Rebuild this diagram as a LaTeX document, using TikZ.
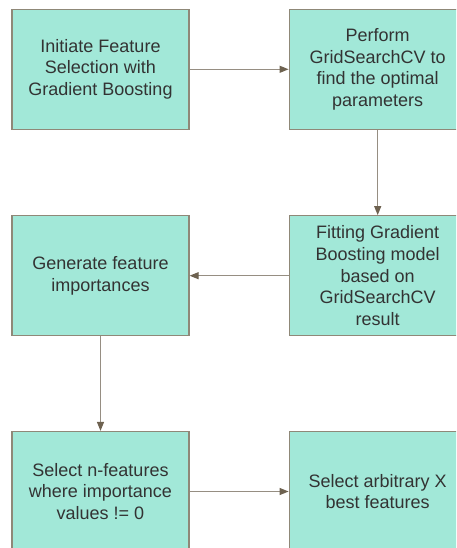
\documentclass[tikz,border=0pt]{standalone}
\usepackage{fontspec}
\setmainfont{Liberation Sans}
\usetikzlibrary{arrows.meta}
\definecolor{boxfill}{RGB}{162,232,216}
\definecolor{boxline}{RGB}{143,136,120}
\definecolor{linkline}{RGB}{150,142,130}
\definecolor{linkhead}{RGB}{110,98,80}
\tikzset{
  x=1pt, y=1pt,
  stepbox/.style={draw=boxline, line width=1.2pt, fill=boxfill, minimum width=177pt,
    minimum height=120pt, inner sep=0pt, align=center, text=black!80,
    font=\fontsize{18}{21.7}\selectfont},
  link/.style={draw=linkline, line width=1.1pt,
    -{Triangle[length=9pt,width=7pt,color=linkhead,fill=linkhead]}}
}
\begin{document}
\begin{tikzpicture}
\useasboundingbox (0,0) rectangle (456,-548);
\begin{scope}
\clip (0,0) rectangle (456,-548);
\node[stepbox] (init) at (100.5,-69.3) {Initiate Feature\\Selection with\\Gradient Boosting};
\node[stepbox] (grid) at (377.7,-69.3) {Perform\\GridSearchCV to\\find the optimal\\parameters};
\node[stepbox] (fit) at (377.7,-275.7) {Fitting Gradient\\Boosting model\\based on\\GridSearchCV\\result};
\node[stepbox] (gen) at (100.5,-275.7) {Generate feature\\importances};
\node[stepbox] (sel) at (100.5,-491.5) {Select n-features\\where importance\\values != 0};
\node[stepbox] (best) at (377.7,-491.5) {Select arbitrary X\\best features};
\draw[link] (init) -- (grid);
\draw[link] (grid) -- (fit);
\draw[link] (fit) -- (gen);
\draw[link] (gen) -- (sel);
\draw[link] (sel) -- (best);
\end{scope}
\end{tikzpicture}
\end{document}
